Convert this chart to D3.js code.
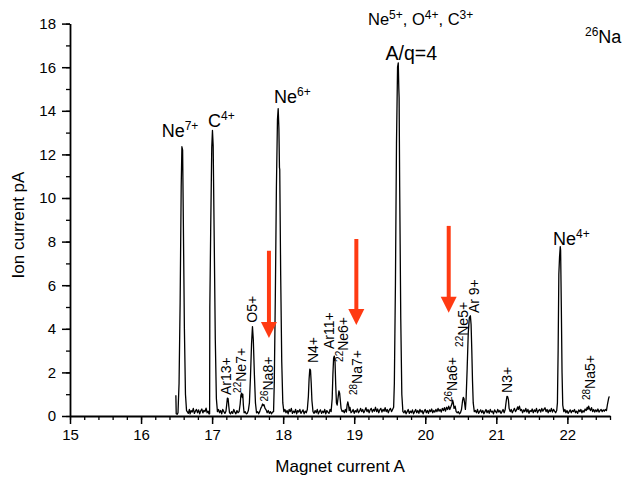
<!DOCTYPE html>
<html>
<head>
<meta charset="utf-8">
<script src="https://cdn.jsdelivr.net/npm/d3@7"></script>
<style>
  body { margin: 0; background: #fff; }
  svg { display: block; font-family: "Liberation Sans", Arial, sans-serif; }
</style>
</head>
<body>
<script>
// magnet current (A) / ion current (pA)
const magnetA = [
  16.49,16.495,16.51,16.52,16.535,16.55,16.565,16.575,16.585,16.595,16.61,16.625,16.64,
  16.65,16.665,16.68,16.69,16.705,16.72,16.735,16.75,16.765,16.78,16.795,16.81,16.825,16.84,16.855,16.87,16.885,16.9,16.915,16.93,16.945,16.955,
  16.965,16.968,16.98,16.995,17.005,17.015,17.03,17.045,17.06,17.075,
  17.09,17.105,17.12,17.135,17.15,17.165,17.18,17.195,17.205,17.215,17.225,17.235,17.245,17.26,17.275,17.29,17.305,17.32,17.335,17.35,17.365,17.38,17.395,17.405,17.415,17.425,17.432,17.44,17.45,17.465,17.48,17.495,17.51,
  17.525,17.54,17.555,17.568,17.58,17.595,17.61,17.625,17.64,17.655,
  17.67,17.685,17.7,17.71,17.72,17.73,17.745,17.76,17.775,17.79,17.805,17.82,17.835,17.85,
  17.865,17.875,17.89,17.905,17.92,17.93,17.94,17.948,17.952,17.965,17.98,17.995,18.01,
  18.025,18.04,18.055,18.07,18.085,18.1,18.115,18.13,18.145,18.16,18.175,18.19,18.205,18.22,18.235,18.25,18.265,18.28,18.295,18.31,18.325,18.34,18.355,18.365,18.375,18.385,18.395,18.405,18.42,
  18.435,18.45,18.465,18.48,18.495,18.51,18.525,18.54,18.555,18.57,18.585,18.6,18.615,18.63,18.645,18.66,18.675,18.69,18.7,18.71,18.72,18.73,18.74,18.75,18.76,18.775,18.785,18.795,18.805,18.815,18.83,18.845,18.86,18.875,18.89,18.9,18.91,18.92,18.93,18.94,18.955,
  18.97,18.985,19.0,19.015,19.03,19.045,19.06,19.075,19.09,19.105,19.12,19.135,19.15,19.165,19.18,19.195,19.21,19.225,19.24,19.255,19.27,19.285,19.3,19.315,19.33,19.345,19.36,19.375,19.39,19.405,19.42,19.435,19.45,19.465,19.48,19.495,19.51,19.525,19.54,19.555,
  19.565,19.58,19.595,19.61,19.62,19.628,19.632,19.64,19.655,19.67,19.685,
  19.7,19.715,19.73,19.745,19.76,19.775,19.79,19.805,19.82,19.835,19.85,19.865,19.88,19.895,19.91,19.925,19.94,19.955,19.97,19.985,20.0,20.015,20.03,20.045,20.06,20.075,20.09,20.105,20.12,20.135,20.15,20.165,20.18,20.195,20.21,20.225,20.24,20.255,20.27,20.285,20.3,20.315,20.33,20.345,20.36,20.375,20.385,20.395,20.405,20.42,20.435,20.45,20.465,20.48,20.495,20.51,20.525,20.535,20.545,20.555,20.565,20.575,20.59,20.605,20.62,20.635,20.645,20.655,20.665,20.675,20.69,
  20.705,20.72,20.735,20.75,20.765,20.78,20.795,20.81,20.825,20.84,20.855,20.87,20.885,20.9,20.915,20.93,20.945,20.96,20.975,20.99,21.005,21.02,21.035,21.05,21.065,21.08,21.095,21.11,21.125,21.14,21.15,21.16,21.17,21.18,21.195,
  21.21,21.225,21.24,21.255,21.27,21.285,21.3,21.31,21.325,21.34,21.355,21.37,21.385,21.4,21.415,21.43,21.445,21.46,21.475,21.49,21.505,21.52,21.535,21.55,21.565,21.58,21.595,21.61,21.625,21.64,21.655,21.67,21.685,21.7,21.715,21.73,21.745,21.76,21.775,21.79,21.805,21.82,21.835,21.85,
  21.86,21.87,21.88,21.89,21.9,21.905,21.915,21.925,21.935,21.95,
  21.965,21.98,21.995,22.01,22.025,22.04,22.055,22.07,22.085,22.1,22.115,22.13,22.145,22.16,22.175,22.19,22.205,22.22,22.235,22.25,22.265,22.28,22.29,22.3,22.31,22.325,22.34,22.355,22.37,22.385,22.4,22.415,22.43,22.445,22.46,22.475,22.49,22.505,22.52,22.535,22.55,22.565,22.58,22.59
];
const ionPA = [
  0.95,0.1,0.08,0.15,1.5,5.2,10.5,12.35,12.2,9.0,4.0,1.0,0.25,
  0.2,0.12,0.3,0.1,0.25,0.18,0.35,0.12,0.22,0.3,0.15,0.28,0.1,0.24,0.32,0.14,0.26,0.2,0.36,0.15,0.22,0.1,
  0.1,5.0,8.5,12.3,13.1,12.4,8.0,3.5,0.8,0.2,
  0.3,0.15,0.25,0.1,0.3,0.2,0.12,0.22,0.5,0.82,0.8,0.45,0.15,0.1,0.2,0.12,0.3,0.18,0.1,0.25,0.15,0.2,0.55,0.95,1.05,0.85,1.0,0.5,0.15,0.2,0.1,0.12,0.25,
  0.6,1.8,3.3,4.1,3.5,1.9,0.6,0.15,0.2,0.1,
  0.2,0.35,0.45,0.55,0.48,0.52,0.35,0.28,0.15,0.25,0.12,0.2,0.1,0.18,
  0.2,1.5,5.5,10.5,13.6,14.1,13.2,11.4,11.3,6.5,2.5,0.6,0.2,
  0.3,0.15,0.25,0.1,0.3,0.2,0.35,0.12,0.22,0.15,0.3,0.1,0.25,0.18,0.3,0.12,0.2,0.28,0.1,0.22,0.15,0.3,0.9,1.7,2.15,2.1,1.5,0.7,0.2,
  0.12,0.25,0.15,0.3,0.1,0.2,0.28,0.12,0.22,0.15,0.3,0.1,0.25,0.18,0.12,0.3,0.2,0.8,1.9,2.65,2.75,2.5,1.4,0.6,0.5,0.9,1.15,1.05,0.7,0.35,0.2,0.25,0.15,0.3,0.18,0.5,0.65,0.5,0.25,0.4,0.15,
  0.2,0.3,0.12,0.25,0.18,0.32,0.15,0.22,0.35,0.2,0.3,0.15,0.25,0.38,0.2,0.3,0.15,0.28,0.35,0.18,0.3,0.22,0.4,0.2,0.32,0.15,0.28,0.35,0.18,0.3,0.22,0.38,0.2,0.3,0.15,0.28,0.35,0.2,0.3,0.4,
  1.5,6.0,12.5,16.0,16.2,15.0,14.6,10.5,4.5,1.0,0.2,
  0.15,0.25,0.1,0.2,0.3,0.12,0.22,0.15,0.28,0.1,0.2,0.3,0.15,0.25,0.12,0.3,0.18,0.25,0.1,0.22,0.3,0.15,0.25,0.12,0.28,0.2,0.32,0.15,0.25,0.18,0.3,0.2,0.35,0.22,0.3,0.18,0.35,0.25,0.38,0.22,0.4,0.3,0.45,0.3,0.42,0.55,0.73,0.6,0.35,0.45,0.2,0.15,0.2,0.1,0.15,0.3,0.7,0.85,0.8,0.55,0.3,0.8,2.2,3.8,4.5,4.6,4.2,3.0,1.6,0.6,0.2,
  0.25,0.15,0.3,0.12,0.2,0.28,0.15,0.25,0.1,0.2,0.3,0.15,0.25,0.12,0.3,0.18,0.22,0.1,0.28,0.2,0.15,0.3,0.18,0.25,0.12,0.2,0.3,0.15,0.3,0.7,0.9,0.88,0.75,0.35,0.2,
  0.3,0.15,0.25,0.35,0.2,0.28,0.42,0.3,0.45,0.25,0.3,0.15,0.28,0.2,0.35,0.18,0.3,0.12,0.25,0.2,0.32,0.15,0.28,0.2,0.35,0.15,0.25,0.3,0.18,0.35,0.22,0.3,0.38,0.2,0.3,0.15,0.28,0.2,0.35,0.18,0.3,0.22,0.15,0.25,
  0.6,3.0,6.5,7.3,7.77,7.6,5.0,2.0,0.5,0.2,
  0.3,0.15,0.25,0.12,0.2,0.28,0.15,0.25,0.2,0.3,0.15,0.22,0.12,0.28,0.2,0.3,0.15,0.25,0.18,0.32,0.25,0.4,0.3,0.45,0.35,0.25,0.38,0.2,0.3,0.18,0.28,0.2,0.32,0.18,0.25,0.3,0.2,0.28,0.22,0.3,0.25,0.55,0.8,0.9
];

const xTicks = [15, 16, 17, 18, 19, 20, 21, 22];
const yTicks = [0, 2, 4, 6, 8, 10, 12, 14, 16, 18];

// big peak names (anchor = left end of baseline, in A / pA)
const bigLabels = [
  { pre: "", text: "Ne", post: "7+", a: 16.29, pa: 12.81 },
  { pre: "", text: "C", post: "4+", a: 16.942, pa: 13.27 },
  { pre: "", text: "Ne", post: "6+", a: 17.871, pa: 14.36 },
  { pre: "", text: "A/q=4", post: "", a: 19.44, pa: 16.33 },
  { pre: "", text: "Ne", post: "4+", a: 21.798, pa: 7.84 },
  { pre: "26", text: "Na", post: "", a: 22.248, pa: 17.11 }
];

// small vertical labels (anchor = bottom of text)
const smallLabels = [
  { pre: "", text: "Ar13+", a: 17.266, pa: 0.96 },
  { pre: "22", text: "Ne7+", a: 17.484, pa: 1.06 },
  { pre: "", text: "O5+", a: 17.625, pa: 4.28 },
  { pre: "26", text: "Na8+", a: 17.857, pa: 0.66 },
  { pre: "", text: "N4+", a: 18.49, pa: 2.43 },
  { pre: "", text: "Ar11+", a: 18.716, pa: 3.07 },
  { pre: "22", text: "Ne6+", a: 18.913, pa: 2.48 },
  { pre: "28", text: "Na7+", a: 19.11, pa: 0.96 },
  { pre: "26", text: "Na6+", a: 20.447, pa: 0.64 },
  { pre: "22", text: "Ne5+", a: 20.602, pa: 3.17 },
  { pre: "", text: "Ar 9+", a: 20.757, pa: 4.72 },
  { pre: "", text: "N3+", a: 21.221, pa: 1.06 },
  { pre: "28", text: "Na5+", a: 22.389, pa: 0.73 }
];

// ions sitting on the A/q = 4 line
const aq4Ions = [["Ne", "5+"], [", O", "4+"], [", C", "3+"]];

// red arrows marking the Na lines
const arrowA = [17.80, 19.03, 20.33];
const arrowTop = [7.58, 8.12, 8.72];
const arrowTip = [3.58, 4.17, 4.74];

const W = 624, H = 477;
const svg = d3.select("body").append("svg")
    .attr("width", W)
    .attr("height", H);
svg.append("rect").attr("width", W).attr("height", H).attr("fill", "#fff");

const x = d3.scaleLinear().domain([15, 22.6]).range([70, 610]);
const y = d3.scaleLinear().domain([0, 18]).range([416, 23.6]);

// minor ticks
svg.append("g")
    .attr("transform", "translate(0,416)")
    .call(d3.axisBottom(x).tickValues(d3.range(15, 22.61, 0.2)).tickSize(4).tickFormat(""))
    .call(g => g.select(".domain").remove())
    .selectAll("line").attr("stroke-width", 1.3);
svg.append("g")
    .attr("transform", "translate(70,0)")
    .call(d3.axisLeft(y).tickValues(d3.range(0, 18.1, 1)).tickSize(4).tickFormat(""))
    .call(g => g.select(".domain").remove())
    .selectAll("line").attr("stroke-width", 1.3);

const xAxis = svg.append("g")
    .attr("transform", "translate(0,416)")
    .call(d3.axisBottom(x).tickValues(xTicks).tickSize(8).tickPadding(5).tickSizeOuter(0));
const yAxis = svg.append("g")
    .attr("transform", "translate(70,0)")
    .call(d3.axisLeft(y).tickValues(yTicks).tickSize(8).tickPadding(6).tickSizeOuter(0));

[xAxis, yAxis].forEach(ax => {
    ax.select(".domain").attr("stroke-width", 1.8);
    ax.selectAll(".tick line").attr("stroke-width", 1.5);
    ax.selectAll("text")
        .style("font-family", "'Liberation Sans', Arial, sans-serif")
        .style("font-size", "15px")
        .attr("fill", "#000");
});

svg.append("text")
    .attr("x", 340).attr("y", 472)
    .attr("text-anchor", "middle")
    .style("font-size", "17px")
    .text("Magnet current A");
svg.append("text")
    .attr("transform", "translate(24,225) rotate(-90)")
    .attr("text-anchor", "middle")
    .style("font-size", "17px")
    .text("Ion current pA");

// spectrum trace
const pts = magnetA.map((a, i) => [a, ionPA[i]]);
svg.append("path")
    .datum(pts)
    .attr("fill", "none")
    .attr("stroke", "#000")
    .attr("stroke-width", 1.3)
    .attr("stroke-linejoin", "round")
    .attr("d", d3.line().x(d => x(d[0])).y(d => y(d[1])));

function drawLabel(lab, size, rotated) {
    const px = x(lab.a), py = y(lab.pa);
    const sup = Math.round(size * 0.68);
    const t = svg.append("text")
        .attr("transform", rotated ? `translate(${px},${py}) rotate(-90)` : `translate(${px},${py})`)
        .style("font-size", size + "px");
    if (lab.pre) t.append("tspan").attr("dy", -size * 0.38).style("font-size", sup + "px").text(lab.pre);
    t.append("tspan").attr("dy", lab.pre ? size * 0.38 : 0).text(lab.text);
    if (lab.post) t.append("tspan").attr("dy", -size * 0.38).style("font-size", sup + "px").text(lab.post);
}

bigLabels.forEach(l => drawLabel(l, l.text == "A/q=4" ? 19.5 : 18, false));
smallLabels.forEach(l => drawLabel(l, 14, true));

const tq = svg.append("text")
    .attr("transform", `translate(${x(19.194)},${y(17.94)})`)
    .style("font-size", "16.5px");
aq4Ions.forEach((p, i) => {
    tq.append("tspan").attr("dy", i == 0 ? 0 : 6).text(p[0]);
    tq.append("tspan").attr("dy", -6).style("font-size", "12px").text(p[1]);
});

// arrows
const red = "#ff3a12";
arrowA.forEach((a, i) => {
    const ax = x(a), top = y(arrowTop[i]), tip = y(arrowTip[i]);
    svg.append("line")
        .attr("x1", ax).attr("x2", ax)
        .attr("y1", top).attr("y2", tip - 14)
        .attr("stroke", red)
        .attr("stroke-width", 4);
    svg.append("path")
        .attr("d", `M${ax - 8},${tip - 16}L${ax + 8},${tip - 16}L${ax},${tip}Z`)
        .attr("fill", red);
});
</script>
</body>
</html>
